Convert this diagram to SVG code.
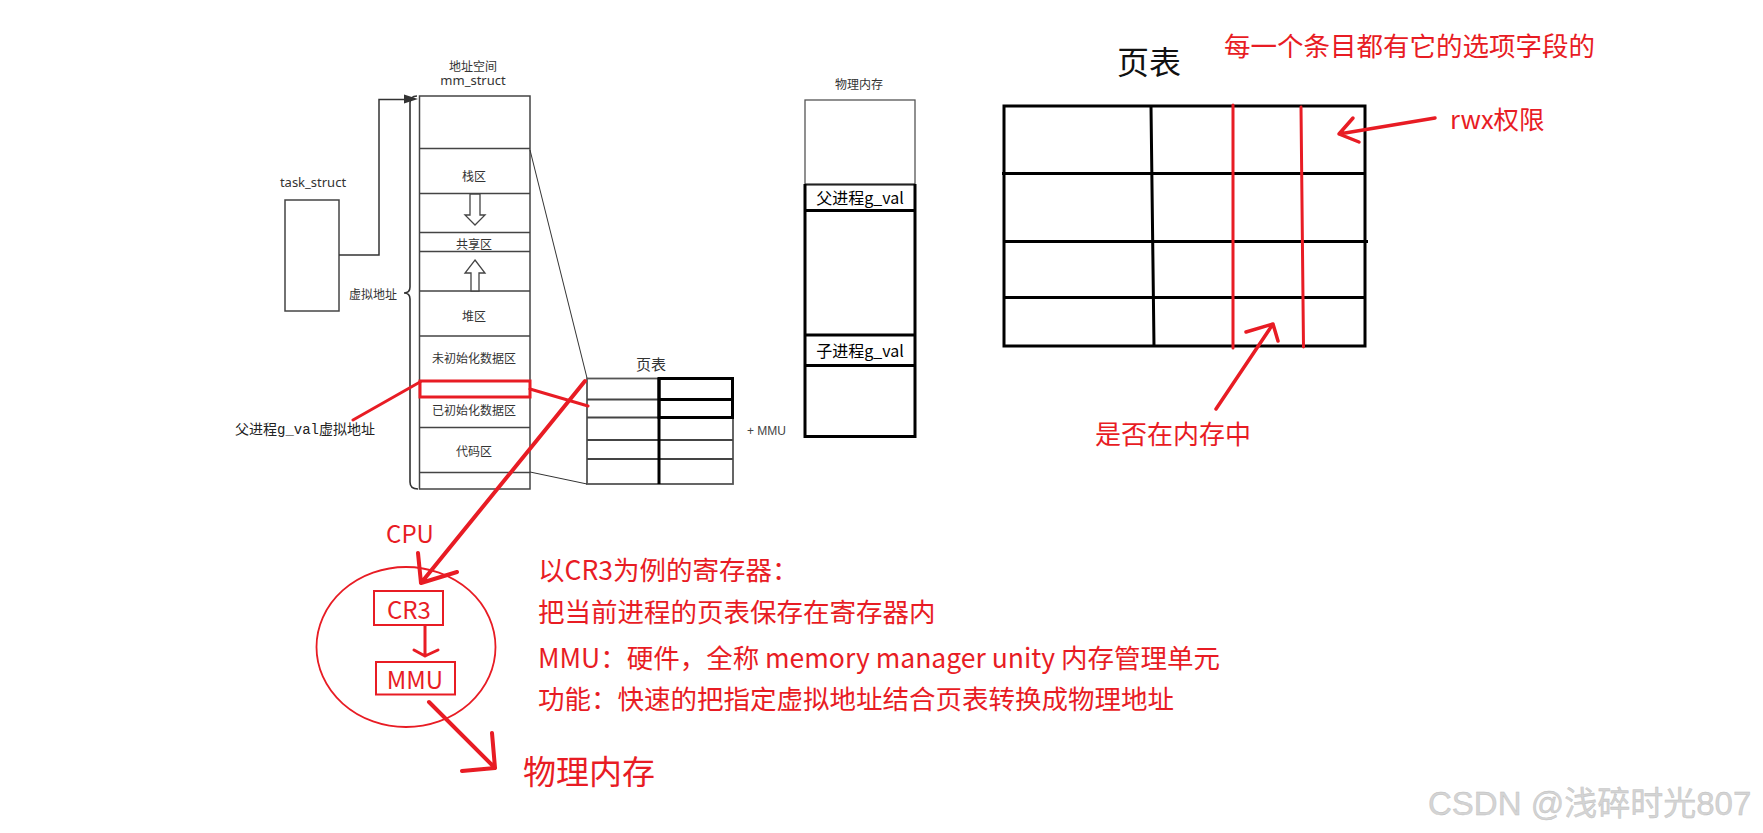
<svg xmlns="http://www.w3.org/2000/svg" width="1763" height="833" viewBox="0 0 1763 833">
<style>
text{dominant-baseline:central}
.s{font-family:"Noto Sans CJK SC","Noto Sans",sans-serif;font-size:12px;fill:#333;text-anchor:middle}
.l{font-family:"Noto Sans","Noto Sans CJK SC",sans-serif;font-size:13px;fill:#333;text-anchor:middle}
.r{font-family:"Noto Sans CJK SC","Noto Sans",sans-serif;fill:#e81c24}
.n{font-size:26.5px}
.thin{fill:none;stroke:#444;stroke-width:1.5}
.blk{fill:none;stroke:#000;stroke-width:3}
.red{fill:none;stroke:#e81c24;stroke-linecap:round;stroke-linejoin:round}
</style>
<rect width="1763" height="833" fill="#fff"/>

<g id="task_struct">
<text class="l" x="313" y="182">task_struct</text>
<rect class="thin" x="285" y="200" width="54" height="111"/>
</g>

<g id="mm_struct">
<text class="s" x="473" y="65">地址空间</text>
<text class="l" x="473" y="80">mm_struct</text>
<rect class="thin" x="419.5" y="96" width="110.5" height="393"/>
<path class="thin" d="M419.5,148.5H530M419.5,193.5H530M419.5,232.5H530M419.5,251.5H530M419.5,291H530M419.5,336H530M419.5,427.5H530M419.5,472.5H530"/>
<text class="s" x="474" y="175">栈区</text>
<polygon points="470,194 480,194 480,215 485,215 475,225 465,215 470,215" fill="#fff" stroke="#444" stroke-width="1.3"/>
<text class="s" x="474" y="243">共享区</text>
<polygon points="475,260 485,273 479,273 479,291 471,291 471,273 465,273" fill="#fff" stroke="#444" stroke-width="1.3"/>
<text class="s" x="474" y="315">堆区</text>
<text class="s" x="474" y="357">未初始化数据区</text>
<text class="s" x="474" y="409">已初始化数据区</text>
<text class="s" x="474" y="450">代码区</text>
<rect x="420" y="381" width="110" height="16" fill="none" stroke="#e81c24" stroke-width="3"/>
<path d="M417,96 Q410,96 410,103 L410,287 Q410,293 404,293 Q410,293 410,299 L410,482 Q410,489 418,489" fill="none" stroke="#333" stroke-width="1.6"/>
<text class="s" x="397" y="293" style="text-anchor:end">虚拟地址</text>
</g>

<g id="page_table_small">
<text class="s" x="651" y="363" style="font-size:15px">页表</text>
<rect x="587" y="378.5" width="146" height="105.5" fill="none" stroke="#555" stroke-width="1.8"/>
<path d="M587,399.5H733M587,417.5H733M587,440H733M587,459H733" fill="none" stroke="#444" stroke-width="2"/>
<path d="M659,378V484" class="blk"/>
<rect x="659" y="378.5" width="73.5" height="39" class="blk"/>
<path d="M659,399.5H732.5" class="blk"/>
<text x="747" y="431" style="font-family:'Liberation Sans',sans-serif;font-size:12px;fill:#444">+ MMU</text>
</g>

<g id="physical_memory">
<text class="s" x="859" y="83">物理内存</text>
<rect x="805" y="100" width="110" height="84.5" fill="none" stroke="#555" stroke-width="1.3"/>
<path d="M805,184.5H915" stroke="#222" stroke-width="2"/>
<path d="M805,184V436.5H915V184" class="blk"/>
<path d="M805,210.5H915M805,335H915M805,365.5H915" class="blk"/>
<text x="860" y="197" style="font-family:'Noto Sans CJK SC','Noto Sans',sans-serif;font-size:16px;fill:#000;text-anchor:middle">父进程g_val</text>
<text x="860" y="350" style="font-family:'Noto Sans CJK SC','Noto Sans',sans-serif;font-size:16px;fill:#000;text-anchor:middle">子进程g_val</text>
</g>

<g id="page_table_big">
<text x="1149" y="60" style="font-family:'Noto Sans CJK SC',sans-serif;font-size:32px;fill:#111;text-anchor:middle">页表</text>
<rect x="1004" y="106" width="361" height="240" class="blk"/>
<path d="M1151,106L1154,346M1002,173.5H1365M1004,241.5H1368M1004,297.5H1365" class="blk"/>
<path d="M1233,105V348M1301,107L1303.5,347" class="red" stroke-width="3"/>
<text class="r" x="1224" y="44" style="font-size:26.5px">每一个条目都有它的选项字段的</text>
<text class="r" x="1450" y="117" style="font-size:25.5px">rwx权限</text>
<text class="r" x="1095" y="432" style="font-size:26px">是否在内存中</text>
</g>

<g id="cpu">
<text class="r" x="410" y="532" style="font-size:24px;text-anchor:middle">CPU</text>
<ellipse cx="406" cy="647" rx="89.5" ry="80" fill="none" stroke="#e81c24" stroke-width="1.8"/>
<rect x="374" y="591" width="69" height="34" fill="none" stroke="#e81c24" stroke-width="2"/>
<text class="r" x="409" y="608" style="font-size:24px;text-anchor:middle">CR3</text>
<rect x="376" y="662" width="79" height="32.5" fill="none" stroke="#e81c24" stroke-width="2"/>
<text class="r" x="415" y="678" style="font-size:24px;text-anchor:middle">MMU</text>
<text class="r" x="523" y="770" style="font-size:33px">物理内存</text>
</g>

<g id="notes">
<text class="r n" x="538" y="568">以CR3为例的寄存器：</text>
<text class="r n" x="538" y="610">把当前进程的页表保存在寄存器内</text>
<text class="r n" x="538" y="656">MMU：硬件，全称 memory manager unity 内存管理单元</text>
<text class="r n" x="538" y="697">功能：快速的把指定虚拟地址结合页表转换成物理地址</text>
</g>

<g id="label_parent_va">
<text x="235" y="430" style="font-family:'Liberation Mono','Noto Sans CJK SC',monospace;font-size:14px;fill:#222">父进程g_val虚拟地址</text>
</g>

<g id="connectors">
<path d="M339,255H379V99.5H405" fill="none" stroke="#333" stroke-width="1.5"/>
<polygon points="418,99 404,94.5 404,103.5" fill="#333"/>
<path d="M530,150L587,378M530,472L587,484" fill="none" stroke="#333" stroke-width="1"/>
<path d="M420,382L353,420M530,389L588,406" class="red" stroke-width="3"/>
<path d="M585,381L421,583M418,553L421,583L457,572" class="red" stroke-width="4"/>
<path d="M425,626V656M414,650L425,656L438,650" class="red" stroke-width="3"/>
<path d="M429,702L495,768M492,733L495,768L462,771" class="red" stroke-width="4"/>
<path d="M1435,118L1339,134M1353,118L1339,134L1359,142" class="red" stroke-width="3.5"/>
<path d="M1216,409L1273,324M1246,332L1273,324L1278,341" class="red" stroke-width="3.5"/>
</g>

<text x="1428" y="803" style="font-family:'Liberation Sans','Noto Sans CJK SC',sans-serif;font-size:33px;fill:#d4d4d4;stroke:#bdbdbd;stroke-width:0.4">CSDN @浅碎时光807</text>
</svg>
